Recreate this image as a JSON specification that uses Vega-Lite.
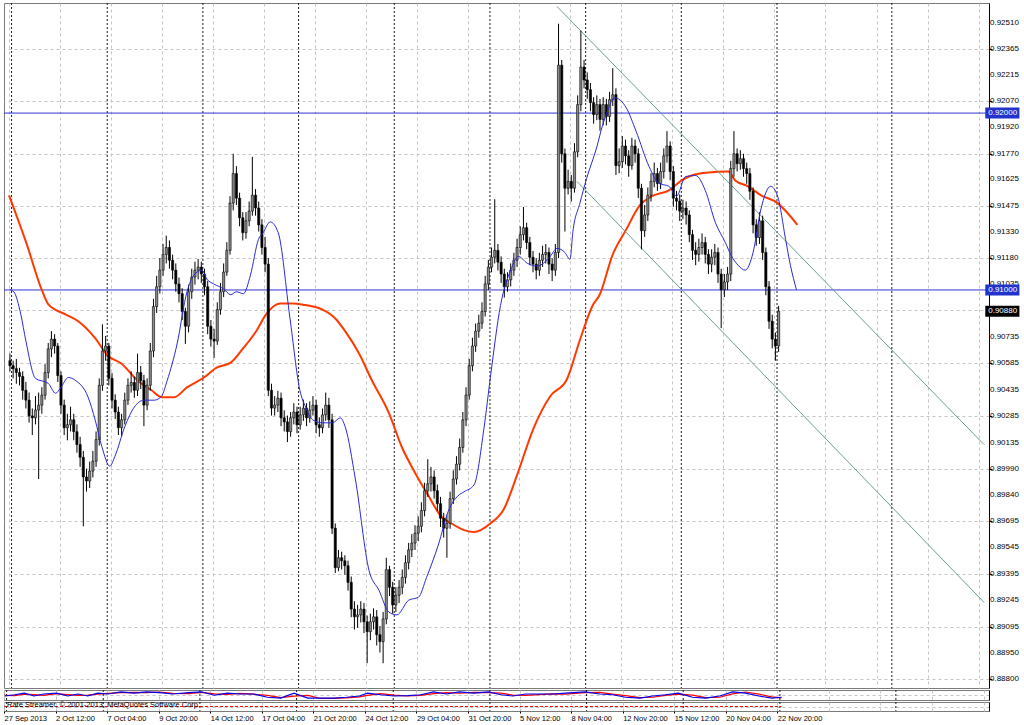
{
"$schema":"https://vega.github.io/schema/vega-lite/v6.json",
"background":"white",
"padding":{"left":3,"top":2,"right":0,"bottom":0},
"spacing":2,
"bounds":"flush",
"resolve":{"scale":{"x":"independent","y":"independent"}},
"config":{
 "view":{"stroke":"#7a7a7a","strokeWidth":1},
 "axis":{"labelFont":"Liberation Sans","labelFontSize":8,"labelColor":"#000","labelOverlap":false,"gridColor":"#c4c4c4","gridDash":[3,3],"gridWidth":1,"tickColor":"#000","domainColor":"#000"}
},
"datasets":{
"candles":[
{"i":0,"o":0.906,"h":0.9064,"l":0.9054,"c":0.90572},
{"i":1,"o":0.90572,"h":0.906,"l":0.905,"c":0.90555},
{"i":2,"o":0.90555,"h":0.9061,"l":0.9047,"c":0.90533},
{"i":3,"o":0.90533,"h":0.9056,"l":0.9046,"c":0.90511},
{"i":4,"o":0.90511,"h":0.9054,"l":0.9038,"c":0.90433},
{"i":5,"o":0.90433,"h":0.9048,"l":0.9033,"c":0.90377},
{"i":6,"o":0.90377,"h":0.9042,"l":0.9025,"c":0.90288},
{"i":7,"o":0.90288,"h":0.9033,"l":0.9018,"c":0.90277},
{"i":8,"o":0.90277,"h":0.904,"l":0.9024,"c":0.90321},
{"i":9,"o":0.90321,"h":0.9042,"l":0.89931,"c":0.90349},
{"i":10,"o":0.90349,"h":0.9045,"l":0.903,"c":0.90405},
{"i":11,"o":0.90405,"h":0.9058,"l":0.9038,"c":0.90533},
{"i":12,"o":0.90533,"h":0.907,"l":0.905,"c":0.90667},
{"i":13,"o":0.90667,"h":0.90767,"l":0.9062,"c":0.90722},
{"i":14,"o":0.90722,"h":0.9075,"l":0.9064,"c":0.90683},
{"i":15,"o":0.90683,"h":0.907,"l":0.9048,"c":0.90516},
{"i":16,"o":0.90516,"h":0.9054,"l":0.903,"c":0.90349},
{"i":17,"o":0.90349,"h":0.9038,"l":0.9018,"c":0.90221},
{"i":18,"o":0.90221,"h":0.903,"l":0.9015,"c":0.90238},
{"i":19,"o":0.90238,"h":0.9034,"l":0.902,"c":0.90266},
{"i":20,"o":0.90266,"h":0.903,"l":0.9015,"c":0.90199},
{"i":21,"o":0.90199,"h":0.9024,"l":0.9008,"c":0.90126},
{"i":22,"o":0.90126,"h":0.9017,"l":0.9,"c":0.90054},
{"i":23,"o":0.90054,"h":0.9009,"l":0.89664,"c":0.89943},
{"i":24,"o":0.89943,"h":0.8999,"l":0.8986,"c":0.8992},
{"i":25,"o":0.8992,"h":0.9003,"l":0.8988,"c":0.89976},
{"i":26,"o":0.89976,"h":0.9009,"l":0.8994,"c":0.90032},
{"i":27,"o":0.90032,"h":0.902,"l":0.9,"c":0.90154},
{"i":28,"o":0.90154,"h":0.905,"l":0.9012,"c":0.90461},
{"i":29,"o":0.90461,"h":0.90806,"l":0.9043,"c":0.90655},
{"i":30,"o":0.90655,"h":0.9074,"l":0.906,"c":0.90683},
{"i":31,"o":0.90683,"h":0.907,"l":0.9046,"c":0.905},
{"i":32,"o":0.905,"h":0.9053,"l":0.9033,"c":0.90377},
{"i":33,"o":0.90377,"h":0.9041,"l":0.9027,"c":0.9031},
{"i":34,"o":0.9031,"h":0.9034,"l":0.9018,"c":0.90221},
{"i":35,"o":0.90221,"h":0.903,"l":0.9017,"c":0.90266},
{"i":36,"o":0.90266,"h":0.9042,"l":0.9024,"c":0.90377},
{"i":37,"o":0.90377,"h":0.905,"l":0.9035,"c":0.90461},
{"i":38,"o":0.90461,"h":0.9054,"l":0.9042,"c":0.90477},
{"i":39,"o":0.90477,"h":0.9051,"l":0.9039,"c":0.90433},
{"i":40,"o":0.90433,"h":0.9064,"l":0.904,"c":0.90533},
{"i":41,"o":0.90533,"h":0.9057,"l":0.9044,"c":0.90488},
{"i":42,"o":0.90488,"h":0.9052,"l":0.9023,"c":0.90349},
{"i":43,"o":0.90349,"h":0.905,"l":0.9032,"c":0.90461},
{"i":44,"o":0.90461,"h":0.907,"l":0.9043,"c":0.90655},
{"i":45,"o":0.90655,"h":0.9095,"l":0.9062,"c":0.90906},
{"i":46,"o":0.90906,"h":0.9108,"l":0.9087,"c":0.91018},
{"i":47,"o":0.91018,"h":0.9118,"l":0.9098,"c":0.91112},
{"i":48,"o":0.91112,"h":0.9126,"l":0.9108,"c":0.91201},
{"i":49,"o":0.91201,"h":0.91307,"l":0.9115,"c":0.9124},
{"i":50,"o":0.9124,"h":0.9128,"l":0.9112,"c":0.91168},
{"i":51,"o":0.91168,"h":0.912,"l":0.9106,"c":0.91112},
{"i":52,"o":0.91112,"h":0.9115,"l":0.9099,"c":0.91034},
{"i":53,"o":0.91034,"h":0.9107,"l":0.9093,"c":0.90979},
{"i":54,"o":0.90979,"h":0.9101,"l":0.9083,"c":0.90878},
{"i":55,"o":0.90878,"h":0.909,"l":0.90695,"c":0.90795},
{"i":56,"o":0.90795,"h":0.9103,"l":0.9076,"c":0.9099},
{"i":57,"o":0.9099,"h":0.9112,"l":0.9095,"c":0.91073},
{"i":58,"o":0.91073,"h":0.9116,"l":0.9103,"c":0.91112},
{"i":59,"o":0.91112,"h":0.91175,"l":0.9106,"c":0.91129},
{"i":60,"o":0.91129,"h":0.9116,"l":0.9104,"c":0.9109},
{"i":61,"o":0.9109,"h":0.9112,"l":0.9097,"c":0.91018},
{"i":62,"o":0.91018,"h":0.9105,"l":0.9075,"c":0.90795},
{"i":63,"o":0.90795,"h":0.9083,"l":0.9068,"c":0.90722},
{"i":64,"o":0.90722,"h":0.9078,"l":0.90616,"c":0.90711},
{"i":65,"o":0.90711,"h":0.9093,"l":0.9069,"c":0.90889},
{"i":66,"o":0.90889,"h":0.9104,"l":0.9086,"c":0.9099},
{"i":67,"o":0.9099,"h":0.9115,"l":0.9096,"c":0.91101},
{"i":68,"o":0.91101,"h":0.9127,"l":0.9108,"c":0.91224},
{"i":69,"o":0.91224,"h":0.9153,"l":0.912,"c":0.91491},
{"i":70,"o":0.91491,"h":0.9177,"l":0.9145,"c":0.91658},
{"i":71,"o":0.91658,"h":0.917,"l":0.9148,"c":0.91519},
{"i":72,"o":0.91519,"h":0.9155,"l":0.9136,"c":0.91408},
{"i":73,"o":0.91408,"h":0.9144,"l":0.9128,"c":0.91324},
{"i":74,"o":0.91324,"h":0.9144,"l":0.9129,"c":0.91391},
{"i":75,"o":0.91391,"h":0.915,"l":0.9136,"c":0.91446},
{"i":76,"o":0.91446,"h":0.91753,"l":0.9142,"c":0.91536},
{"i":77,"o":0.91536,"h":0.9157,"l":0.9142,"c":0.91463},
{"i":78,"o":0.91463,"h":0.915,"l":0.9133,"c":0.91368},
{"i":79,"o":0.91368,"h":0.914,"l":0.912,"c":0.9124},
{"i":80,"o":0.9124,"h":0.913,"l":0.911,"c":0.91146},
{"i":81,"o":0.91146,"h":0.9118,"l":0.904,"c":0.90433},
{"i":82,"o":0.90433,"h":0.9047,"l":0.9029,"c":0.90332},
{"i":83,"o":0.90332,"h":0.904,"l":0.9029,"c":0.90349},
{"i":84,"o":0.90349,"h":0.9043,"l":0.9031,"c":0.90388},
{"i":85,"o":0.90388,"h":0.9042,"l":0.9023,"c":0.90277},
{"i":86,"o":0.90277,"h":0.9032,"l":0.902,"c":0.90254},
{"i":87,"o":0.90254,"h":0.9029,"l":0.9014,"c":0.90199},
{"i":88,"o":0.90199,"h":0.9031,"l":0.9017,"c":0.90277},
{"i":89,"o":0.90277,"h":0.9036,"l":0.9024,"c":0.9031},
{"i":90,"o":0.9031,"h":0.9034,"l":0.9019,"c":0.90238},
{"i":91,"o":0.90238,"h":0.9034,"l":0.9021,"c":0.90294},
{"i":92,"o":0.90294,"h":0.9038,"l":0.9026,"c":0.90332},
{"i":93,"o":0.90332,"h":0.9036,"l":0.9023,"c":0.90277},
{"i":94,"o":0.90277,"h":0.9037,"l":0.9025,"c":0.90321},
{"i":95,"o":0.90321,"h":0.904,"l":0.9029,"c":0.90349},
{"i":96,"o":0.90349,"h":0.9038,"l":0.9019,"c":0.90238},
{"i":97,"o":0.90238,"h":0.9028,"l":0.9017,"c":0.90221},
{"i":98,"o":0.90221,"h":0.9033,"l":0.9019,"c":0.90294},
{"i":99,"o":0.90294,"h":0.9042,"l":0.9026,"c":0.90349},
{"i":100,"o":0.90349,"h":0.9039,"l":0.9022,"c":0.90266},
{"i":101,"o":0.90266,"h":0.903,"l":0.8962,"c":0.89653},
{"i":102,"o":0.89653,"h":0.8968,"l":0.894,"c":0.8943},
{"i":103,"o":0.8943,"h":0.8953,"l":0.8941,"c":0.89486},
{"i":104,"o":0.89486,"h":0.8952,"l":0.8942,"c":0.89469},
{"i":105,"o":0.89469,"h":0.895,"l":0.8939,"c":0.89441},
{"i":106,"o":0.89441,"h":0.8947,"l":0.893,"c":0.89347},
{"i":107,"o":0.89347,"h":0.8938,"l":0.8915,"c":0.89196},
{"i":108,"o":0.89196,"h":0.8924,"l":0.8908,"c":0.89152},
{"i":109,"o":0.89152,"h":0.8922,"l":0.8909,"c":0.89163},
{"i":110,"o":0.89163,"h":0.8924,"l":0.8912,"c":0.89196},
{"i":111,"o":0.89196,"h":0.8923,"l":0.8906,"c":0.89124},
{"i":112,"o":0.89124,"h":0.8916,"l":0.8889,"c":0.89068},
{"i":113,"o":0.89068,"h":0.8917,"l":0.8902,"c":0.89124},
{"i":114,"o":0.89124,"h":0.892,"l":0.8908,"c":0.89152},
{"i":115,"o":0.89152,"h":0.8919,"l":0.8899,"c":0.89051},
{"i":116,"o":0.89051,"h":0.891,"l":0.8895,"c":0.89012},
{"i":117,"o":0.89012,"h":0.8918,"l":0.8889,"c":0.8914},
{"i":118,"o":0.8914,"h":0.89486,"l":0.8911,"c":0.89419},
{"i":119,"o":0.89419,"h":0.8944,"l":0.8927,"c":0.89319},
{"i":120,"o":0.89319,"h":0.8935,"l":0.8917,"c":0.89219},
{"i":121,"o":0.89219,"h":0.8932,"l":0.8918,"c":0.89274},
{"i":122,"o":0.89274,"h":0.8936,"l":0.8923,"c":0.89319},
{"i":123,"o":0.89319,"h":0.8942,"l":0.8928,"c":0.89375},
{"i":124,"o":0.89375,"h":0.895,"l":0.8934,"c":0.89458},
{"i":125,"o":0.89458,"h":0.8957,"l":0.8942,"c":0.89531},
{"i":126,"o":0.89531,"h":0.8962,"l":0.8949,"c":0.89569},
{"i":127,"o":0.89569,"h":0.8967,"l":0.8953,"c":0.89625},
{"i":128,"o":0.89625,"h":0.8972,"l":0.8958,"c":0.89664},
{"i":129,"o":0.89664,"h":0.898,"l":0.8963,"c":0.89753},
{"i":130,"o":0.89753,"h":0.8991,"l":0.8972,"c":0.89865},
{"i":131,"o":0.89865,"h":0.90043,"l":0.8983,"c":0.89904},
{"i":132,"o":0.89904,"h":0.9,"l":0.8986,"c":0.89943},
{"i":133,"o":0.89943,"h":0.8998,"l":0.8982,"c":0.89865},
{"i":134,"o":0.89865,"h":0.899,"l":0.8975,"c":0.89792},
{"i":135,"o":0.89792,"h":0.8983,"l":0.8966,"c":0.89709},
{"i":136,"o":0.89709,"h":0.8974,"l":0.896,"c":0.89653},
{"i":137,"o":0.89653,"h":0.8973,"l":0.89486,"c":0.89681},
{"i":138,"o":0.89681,"h":0.8986,"l":0.8965,"c":0.8982},
{"i":139,"o":0.8982,"h":0.8998,"l":0.8979,"c":0.89931},
{"i":140,"o":0.89931,"h":0.9006,"l":0.899,"c":0.90015},
{"i":141,"o":0.90015,"h":0.9016,"l":0.8998,"c":0.9011},
{"i":142,"o":0.9011,"h":0.9031,"l":0.9008,"c":0.90266},
{"i":143,"o":0.90266,"h":0.9045,"l":0.9023,"c":0.90406},
{"i":144,"o":0.90406,"h":0.9061,"l":0.9038,"c":0.90572},
{"i":145,"o":0.90572,"h":0.9073,"l":0.9054,"c":0.90683},
{"i":146,"o":0.90683,"h":0.9081,"l":0.9065,"c":0.90767},
{"i":147,"o":0.90767,"h":0.9086,"l":0.9073,"c":0.90812},
{"i":148,"o":0.90812,"h":0.9093,"l":0.9078,"c":0.90878},
{"i":149,"o":0.90878,"h":0.9108,"l":0.9085,"c":0.91034},
{"i":150,"o":0.91034,"h":0.9117,"l":0.91,"c":0.91129},
{"i":151,"o":0.91129,"h":0.9124,"l":0.911,"c":0.91185},
{"i":152,"o":0.91185,"h":0.91513,"l":0.9115,"c":0.91224},
{"i":153,"o":0.91224,"h":0.9126,"l":0.9111,"c":0.91157},
{"i":154,"o":0.91157,"h":0.9119,"l":0.9104,"c":0.9109},
{"i":155,"o":0.9109,"h":0.9112,"l":0.90957,"c":0.91018},
{"i":156,"o":0.91018,"h":0.911,"l":0.9099,"c":0.91057},
{"i":157,"o":0.91057,"h":0.9115,"l":0.9102,"c":0.91112},
{"i":158,"o":0.91112,"h":0.9121,"l":0.9108,"c":0.91168},
{"i":159,"o":0.91168,"h":0.9129,"l":0.9113,"c":0.9124},
{"i":160,"o":0.9124,"h":0.9136,"l":0.912,"c":0.91313},
{"i":161,"o":0.91313,"h":0.91469,"l":0.9128,"c":0.91352},
{"i":162,"o":0.91352,"h":0.9138,"l":0.9123,"c":0.91268},
{"i":163,"o":0.91268,"h":0.913,"l":0.9114,"c":0.91185},
{"i":164,"o":0.91185,"h":0.9122,"l":0.911,"c":0.91146},
{"i":165,"o":0.91146,"h":0.9118,"l":0.9106,"c":0.91112},
{"i":166,"o":0.91112,"h":0.9121,"l":0.9108,"c":0.91168},
{"i":167,"o":0.91168,"h":0.9125,"l":0.9113,"c":0.91201},
{"i":168,"o":0.91201,"h":0.9126,"l":0.9115,"c":0.91212},
{"i":169,"o":0.91212,"h":0.9124,"l":0.9109,"c":0.91146},
{"i":170,"o":0.91146,"h":0.9118,"l":0.9105,"c":0.91112},
{"i":171,"o":0.91112,"h":0.9126,"l":0.9108,"c":0.91212},
{"i":172,"o":0.91212,"h":0.92505,"l":0.9118,"c":0.92271},
{"i":173,"o":0.92271,"h":0.923,"l":0.9172,"c":0.9177},
{"i":174,"o":0.9177,"h":0.918,"l":0.9133,"c":0.91575},
{"i":175,"o":0.91575,"h":0.9168,"l":0.9154,"c":0.91614},
{"i":176,"o":0.91614,"h":0.9165,"l":0.915,"c":0.91575},
{"i":177,"o":0.91575,"h":0.9183,"l":0.9155,"c":0.91781},
{"i":178,"o":0.91781,"h":0.921,"l":0.9175,"c":0.92048},
{"i":179,"o":0.92048,"h":0.92466,"l":0.9201,"c":0.9226},
{"i":180,"o":0.9226,"h":0.923,"l":0.9214,"c":0.92187},
{"i":181,"o":0.92187,"h":0.9223,"l":0.9208,"c":0.92132},
{"i":182,"o":0.92132,"h":0.9217,"l":0.9201,"c":0.92059},
{"i":183,"o":0.92059,"h":0.9209,"l":0.9194,"c":0.91992},
{"i":184,"o":0.91992,"h":0.921,"l":0.9196,"c":0.92048},
{"i":185,"o":0.92048,"h":0.9208,"l":0.919,"c":0.91964},
{"i":186,"o":0.91964,"h":0.9209,"l":0.9193,"c":0.92048},
{"i":187,"o":0.92048,"h":0.9208,"l":0.9193,"c":0.91981},
{"i":188,"o":0.91981,"h":0.9212,"l":0.9195,"c":0.92076},
{"i":189,"o":0.92076,"h":0.92254,"l":0.9204,"c":0.92104},
{"i":190,"o":0.92104,"h":0.9214,"l":0.9165,"c":0.91703},
{"i":191,"o":0.91703,"h":0.918,"l":0.9166,"c":0.91725},
{"i":192,"o":0.91725,"h":0.9187,"l":0.9169,"c":0.91814},
{"i":193,"o":0.91814,"h":0.9185,"l":0.9171,"c":0.91758},
{"i":194,"o":0.91758,"h":0.9179,"l":0.9164,"c":0.91703},
{"i":195,"o":0.91703,"h":0.9186,"l":0.9168,"c":0.91814},
{"i":196,"o":0.91814,"h":0.9185,"l":0.9172,"c":0.9177},
{"i":197,"o":0.9177,"h":0.918,"l":0.9152,"c":0.91575},
{"i":198,"o":0.91575,"h":0.916,"l":0.91229,"c":0.91335},
{"i":199,"o":0.91335,"h":0.9148,"l":0.913,"c":0.91424},
{"i":200,"o":0.91424,"h":0.9158,"l":0.9139,"c":0.91536},
{"i":201,"o":0.91536,"h":0.9166,"l":0.915,"c":0.91614},
{"i":202,"o":0.91614,"h":0.9172,"l":0.9158,"c":0.91658},
{"i":203,"o":0.91658,"h":0.9169,"l":0.9156,"c":0.91602},
{"i":204,"o":0.91602,"h":0.9172,"l":0.9157,"c":0.91669},
{"i":205,"o":0.91669,"h":0.918,"l":0.9163,"c":0.91758},
{"i":206,"o":0.91758,"h":0.91898,"l":0.9172,"c":0.91814},
{"i":207,"o":0.91814,"h":0.9184,"l":0.9162,"c":0.91669},
{"i":208,"o":0.91669,"h":0.917,"l":0.9147,"c":0.91519},
{"i":209,"o":0.91519,"h":0.9156,"l":0.9145,"c":0.91502},
{"i":210,"o":0.91502,"h":0.9154,"l":0.9139,"c":0.91446},
{"i":211,"o":0.91446,"h":0.9151,"l":0.914,"c":0.91463},
{"i":212,"o":0.91463,"h":0.915,"l":0.9137,"c":0.91424},
{"i":213,"o":0.91424,"h":0.9145,"l":0.9127,"c":0.91313},
{"i":214,"o":0.91313,"h":0.9134,"l":0.9117,"c":0.91224},
{"i":215,"o":0.91224,"h":0.9127,"l":0.9114,"c":0.91201},
{"i":216,"o":0.91201,"h":0.9129,"l":0.9116,"c":0.9124},
{"i":217,"o":0.9124,"h":0.9132,"l":0.912,"c":0.91268},
{"i":218,"o":0.91268,"h":0.913,"l":0.9115,"c":0.91201},
{"i":219,"o":0.91201,"h":0.9123,"l":0.9109,"c":0.91146},
{"i":220,"o":0.91146,"h":0.9123,"l":0.911,"c":0.91185},
{"i":221,"o":0.91185,"h":0.9126,"l":0.9114,"c":0.91212},
{"i":222,"o":0.91212,"h":0.9124,"l":0.9104,"c":0.9109},
{"i":223,"o":0.9109,"h":0.9112,"l":0.90784,"c":0.91001},
{"i":224,"o":0.91001,"h":0.9109,"l":0.9096,"c":0.91045},
{"i":225,"o":0.91045,"h":0.9113,"l":0.91,"c":0.9109},
{"i":226,"o":0.9109,"h":0.9173,"l":0.9105,"c":0.91686},
{"i":227,"o":0.91686,"h":0.91898,"l":0.9164,"c":0.9177},
{"i":228,"o":0.9177,"h":0.918,"l":0.9167,"c":0.91714},
{"i":229,"o":0.91714,"h":0.9179,"l":0.9168,"c":0.91742},
{"i":230,"o":0.91742,"h":0.9177,"l":0.9164,"c":0.91686},
{"i":231,"o":0.91686,"h":0.9172,"l":0.916,"c":0.91658},
{"i":232,"o":0.91658,"h":0.9169,"l":0.9151,"c":0.91558},
{"i":233,"o":0.91558,"h":0.9158,"l":0.9132,"c":0.91368},
{"i":234,"o":0.91368,"h":0.914,"l":0.9125,"c":0.91296},
{"i":235,"o":0.91296,"h":0.9144,"l":0.9126,"c":0.91391},
{"i":236,"o":0.91391,"h":0.9142,"l":0.9117,"c":0.91212},
{"i":237,"o":0.91212,"h":0.9124,"l":0.9097,"c":0.91018},
{"i":238,"o":0.91018,"h":0.9105,"l":0.9078,"c":0.90823},
{"i":239,"o":0.90823,"h":0.9086,"l":0.9067,"c":0.90722},
{"i":240,"o":0.90722,"h":0.9076,"l":0.906,"c":0.90683},
{"i":241,"o":0.90683,"h":0.9091,"l":0.9065,"c":0.9088}
],
"blue":[
{"i":0,"p":0.91001},{"i":1.2,"p":0.9099},{"i":3.4,"p":0.90862},{"i":5,"p":0.90711},{"i":8,"p":0.905},{"i":12,"p":0.90472},{"i":14.3,"p":0.90416},{"i":15.8,"p":0.90444},{"i":18.3,"p":0.90505},{"i":20.5,"p":0.90489},{"i":24.5,"p":0.90394},{"i":26.7,"p":0.90266},{"i":28.8,"p":0.90115},{"i":31.3,"p":0.90004},{"i":32.9,"p":0.90059},{"i":36,"p":0.90227},{"i":39,"p":0.90338},{"i":42,"p":0.90377},{"i":45.3,"p":0.90377},{"i":47.5,"p":0.90399},{"i":49.3,"p":0.90488},{"i":52.4,"p":0.90695},{"i":55.5,"p":0.9099},{"i":57.7,"p":0.91084},{"i":60.2,"p":0.91112},{"i":61.7,"p":0.91062},{"i":63.9,"p":0.91034},{"i":67,"p":0.91006},{"i":69.2,"p":0.90973},{"i":71,"p":0.9099},{"i":73.2,"p":0.90979},{"i":75.4,"p":0.91084},{"i":77.9,"p":0.91285},{"i":79.4,"p":0.91324},{"i":81.6,"p":0.91385},{"i":84.1,"p":0.91324},{"i":87.8,"p":0.90839},{"i":90.9,"p":0.90433},{"i":92.7,"p":0.90338},{"i":94.9,"p":0.90266},{"i":98,"p":0.90249},{"i":101.1,"p":0.90249},{"i":103.6,"p":0.90277},{"i":105.1,"p":0.90227},{"i":108.3,"p":0.89931},{"i":112.6,"p":0.89413},{"i":115.7,"p":0.89302},{"i":118.8,"p":0.89179},{"i":121.3,"p":0.89163},{"i":125,"p":0.89246},{"i":128.1,"p":0.89263},{"i":130.6,"p":0.89374},{"i":134.3,"p":0.89558},{"i":137.4,"p":0.89748},{"i":140.5,"p":0.89837},{"i":142.4,"p":0.89859},{"i":145.5,"p":0.89898},{"i":148.6,"p":0.90215},{"i":150.7,"p":0.90516},{"i":153.8,"p":0.90912},{"i":157,"p":0.91112},{"i":159.4,"p":0.9119},{"i":162.2,"p":0.91151},{"i":165.3,"p":0.91135},{"i":169.4,"p":0.9119},{"i":171.5,"p":0.91235},{"i":174,"p":0.91212},{"i":175.6,"p":0.91173},{"i":176.5,"p":0.91329},{"i":178.7,"p":0.91491},{"i":180.8,"p":0.9163},{"i":184,"p":0.91808},{"i":185.8,"p":0.91931},{"i":187,"p":0.91992},{"i":189.5,"p":0.92087},{"i":193.2,"p":0.92031},{"i":196.3,"p":0.91898},{"i":200.4,"p":0.91697},{"i":203.5,"p":0.91602},{"i":206.6,"p":0.91586},{"i":209,"p":0.9153},{"i":211.8,"p":0.91641},{"i":215,"p":0.91647},{"i":218,"p":0.91563},{"i":221.2,"p":0.9138},{"i":224.3,"p":0.91268},{"i":226.1,"p":0.91196},{"i":228.3,"p":0.9114},{"i":230.5,"p":0.91112},{"i":233,"p":0.91212},{"i":235.4,"p":0.91452},{"i":238.5,"p":0.91586},{"i":240.7,"p":0.9153},{"i":243.2,"p":0.91285},{"i":244.7,"p":0.9114},{"i":246.6,"p":0.91001}
],
"red":[
{"i":-0.3,"p":0.91535},{"i":5,"p":0.91273},{"i":10.2,"p":0.9099},{"i":12.1,"p":0.90917},{"i":17.4,"p":0.90862},{"i":21.4,"p":0.90823},{"i":26.7,"p":0.90728},{"i":30.7,"p":0.90628},{"i":35,"p":0.90583},{"i":40,"p":0.90488},{"i":44.4,"p":0.90433},{"i":47.5,"p":0.90394},{"i":51.5,"p":0.90394},{"i":55.5,"p":0.90449},{"i":60.8,"p":0.90505},{"i":64.8,"p":0.90561},{"i":69.2,"p":0.90589},{"i":73.2,"p":0.90672},{"i":77.2,"p":0.90767},{"i":80.3,"p":0.90862},{"i":84.7,"p":0.90923},{"i":88.7,"p":0.90923},{"i":91.8,"p":0.90917},{"i":98,"p":0.90889},{"i":102,"p":0.90839},{"i":105.1,"p":0.90767},{"i":109.5,"p":0.90639},{"i":113.5,"p":0.90488},{"i":118.8,"p":0.90305},{"i":122.8,"p":0.90115},{"i":126.9,"p":0.8997},{"i":131.2,"p":0.89837},{"i":135.2,"p":0.8972},{"i":138.3,"p":0.89681},{"i":142.4,"p":0.89642},{"i":145.5,"p":0.89631},{"i":150.7,"p":0.89681},{"i":154.8,"p":0.89759},{"i":159.1,"p":0.89959},{"i":164.1,"p":0.90215},{"i":169.4,"p":0.90399},{"i":174.6,"p":0.90494},{"i":178.7,"p":0.90717},{"i":182.7,"p":0.90912},{"i":184.9,"p":0.90973},{"i":188.9,"p":0.91196},{"i":193.2,"p":0.91341},{"i":197.3,"p":0.91474},{"i":201.3,"p":0.9153},{"i":206.6,"p":0.91563},{"i":210.6,"p":0.91619},{"i":213.7,"p":0.91647},{"i":219,"p":0.91664},{"i":225.2,"p":0.91669},{"i":227.4,"p":0.91619},{"i":231.4,"p":0.91586},{"i":235.4,"p":0.91536},{"i":240.7,"p":0.91491},{"i":243.8,"p":0.91435},{"i":246.9,"p":0.91368}
],
"chan":[
{"ln":"upper","i":171.5,"p":0.92603},{"ln":"upper","i":305.4,"p":0.90126},
{"ln":"lower","i":177.8,"p":0.91613},{"ln":"lower","i":305.4,"p":0.89234}
],
"sep":[{"i":0.5},{"i":30.5},{"i":60.5},{"i":90.5},{"i":120.5},{"i":150.5},{"i":180.5},{"i":210.5},{"i":240.5},{"i":276.5}],
"levels":[
{"p":0.92,"tag":"0.92000","k":"line"},
{"p":0.91,"tag":"0.91000","k":"line"},
{"p":0.9088,"tag":"0.90880","k":"bid"}
],
"ylab":[{"v":0.9251},{"v":0.92365},{"v":0.92215},{"v":0.9207},{"v":0.9192},{"v":0.9177},{"v":0.91625},{"v":0.91475},{"v":0.9133},{"v":0.9118},{"v":0.91035},{"v":0.90735},{"v":0.90585},{"v":0.90435},{"v":0.90285},{"v":0.90135},{"v":0.8999},{"v":0.8984},{"v":0.89695},{"v":0.89545},{"v":0.89395},{"v":0.89245},{"v":0.89095},{"v":0.8895},{"v":0.888}],
"osc":[
{"i":0,"b":46,"r":50},{"i":3,"b":54,"r":48},{"i":6,"b":65,"r":58},{"i":9,"b":46,"r":55},{"i":12,"b":59,"r":50},{"i":16,"b":65,"r":62},{"i":19.5,"b":46,"r":55},{"i":22.6,"b":59,"r":50},{"i":25.7,"b":46,"r":52},{"i":28.8,"b":65,"r":58},{"i":32,"b":59,"r":63},{"i":36,"b":73,"r":68},{"i":40,"b":65,"r":70},{"i":44,"b":73,"r":68},{"i":48,"b":68,"r":72},{"i":52,"b":59,"r":63},{"i":57,"b":68,"r":62},{"i":61,"b":73,"r":70},{"i":65,"b":51,"r":60},{"i":69,"b":65,"r":56},{"i":73,"b":59,"r":63},{"i":77,"b":59,"r":58},{"i":81.5,"b":38,"r":50},{"i":85.6,"b":32,"r":36},{"i":89.7,"b":65,"r":45},{"i":94,"b":32,"r":50},{"i":98,"b":32,"r":30},{"i":102,"b":32,"r":30},{"i":106,"b":38,"r":34},{"i":110,"b":46,"r":40},{"i":112.5,"b":65,"r":50},{"i":116.6,"b":54,"r":62},{"i":120.7,"b":46,"r":52},{"i":125,"b":49,"r":46},{"i":129,"b":54,"r":50},{"i":133,"b":73,"r":62},{"i":137,"b":59,"r":68},{"i":141,"b":73,"r":64},{"i":145.5,"b":65,"r":70},{"i":150,"b":73,"r":68},{"i":154,"b":54,"r":65},{"i":157.6,"b":46,"r":52},{"i":161.6,"b":59,"r":50},{"i":170,"b":59,"r":60},{"i":174,"b":65,"r":58},{"i":180,"b":73,"r":68},{"i":184.6,"b":59,"r":70},{"i":188.6,"b":54,"r":58},{"i":192.6,"b":38,"r":48},{"i":197,"b":32,"r":36},{"i":201,"b":46,"r":38},{"i":205,"b":54,"r":50},{"i":209,"b":65,"r":58},{"i":213.4,"b":38,"r":52},{"i":217.4,"b":32,"r":36},{"i":221.8,"b":46,"r":38},{"i":225.8,"b":73,"r":60},{"i":229.8,"b":65,"r":72},{"i":234,"b":46,"r":58},{"i":238,"b":32,"r":40},{"i":241,"b":38,"r":34}
],
"sig":[{"i":0,"v":0.5},{"i":241,"v":0.5}],
"note":[{"t":"Rate Streamer, © 2001-2013, MetaQuotes Software Corp."}]
},
"vconcat":[
{
 "width":985,"height":685,
 "layer":[
  {"data":{"name":"sep"},"mark":{"type":"rule","color":"#1a1a1a","strokeDash":[2,2],"strokeWidth":1},
   "encoding":{"x":{"field":"i","type":"quantitative","title":null,"scale":{"domain":[-0.3,305.4],"nice":false,"zero":false},
     "axis":{"values":[-0.3,7.7,15.7,23.7,31.7,39.7,47.7,55.7,63.7,71.7,79.7,87.7,95.7,103.7,111.7,119.7,127.7,135.7,143.7,151.7,159.7,167.7,175.7,183.7,191.7,199.7,207.7,215.7,223.7,231.7,239.7,247.7,255.7,263.7,271.7,279.7,287.7,295.7,303.7],"grid":true,"labels":false,"ticks":false,"domain":false,"title":null}}}},
  {"data":{"name":"levels"},"transform":[{"filter":"datum.k == 'line'"}],"mark":{"type":"rule","color":"#3036d4","strokeWidth":1},
   "encoding":{"y":{"field":"p","type":"quantitative","title":null,"scale":{"domain":[0.88778,0.92594],"nice":false,"zero":false},
     "axis":{"orient":"right","values":[0.9251,0.92365,0.92215,0.9207,0.9192,0.9177,0.91625,0.91475,0.9133,0.9118,0.91035,0.90885,0.90735,0.90585,0.90435,0.90285,0.90135,0.8999,0.8984,0.89695,0.89545,0.89395,0.89245,0.89095,0.8895,0.888],"labels":false,"grid":true,"tickSize":3,"title":null}}}},
  {"data":{"name":"ylab"},"mark":{"type":"text","align":"left","baseline":"middle","font":"Liberation Sans","fontSize":8,"color":"#000","dx":6,"clip":false},
   "encoding":{"x":{"datum":305.4,"type":"quantitative","title":null,"scale":{"domain":[-0.3,305.4],"nice":false,"zero":false}},
     "y":{"field":"v","type":"quantitative","title":null,"scale":{"domain":[0.88778,0.92594],"nice":false,"zero":false}},
     "text":{"field":"v","type":"quantitative","format":".5f"}}},
  {"data":{"name":"red"},"mark":{"type":"line","color":"#ff3a00","strokeWidth":2,"clip":true,"interpolate":"monotone"},
   "encoding":{"x":{"field":"i","type":"quantitative","title":null,"scale":{"domain":[-0.3,305.4],"nice":false,"zero":false}},
     "y":{"field":"p","type":"quantitative","title":null,"scale":{"domain":[0.88778,0.92594],"nice":false,"zero":false}}}},
  {"data":{"name":"chan"},"mark":{"type":"line","color":"#6a9e8e","strokeWidth":1,"clip":true},
   "encoding":{"x":{"field":"i","type":"quantitative","title":null,"scale":{"domain":[-0.3,305.4],"nice":false,"zero":false}},
     "y":{"field":"p","type":"quantitative","title":null,"scale":{"domain":[0.88778,0.92594],"nice":false,"zero":false}},
     "detail":{"field":"ln","type":"nominal"}}},
  {"data":{"name":"candles"},"mark":{"type":"rule","color":"#000","strokeWidth":1,"clip":true},
   "encoding":{"x":{"field":"i","type":"quantitative","title":null,"scale":{"domain":[-0.3,305.4],"nice":false,"zero":false}},
     "y":{"field":"l","type":"quantitative","title":null,"scale":{"domain":[0.88778,0.92594],"nice":false,"zero":false}},
     "y2":{"field":"h"}}},
  {"data":{"name":"candles"},"mark":{"type":"bar","width":2.2,"stroke":"#000","strokeWidth":0.6,"clip":true},
   "encoding":{"x":{"field":"i","type":"quantitative","title":null,"scale":{"domain":[-0.3,305.4],"nice":false,"zero":false}},
     "y":{"field":"o","type":"quantitative","title":null,"scale":{"domain":[0.88778,0.92594],"nice":false,"zero":false}},
     "y2":{"field":"c"},
     "fill":{"condition":{"test":"datum.c >= datum.o","value":"#8c8c8c"},"value":"#000000"}}},
  {"data":{"name":"blue"},"mark":{"type":"line","color":"#2a2ad6","strokeWidth":1,"clip":true,"interpolate":"monotone"},
   "encoding":{"x":{"field":"i","type":"quantitative","title":null,"scale":{"domain":[-0.3,305.4],"nice":false,"zero":false}},
     "y":{"field":"p","type":"quantitative","title":null,"scale":{"domain":[0.88778,0.92594],"nice":false,"zero":false}}}},
  {"data":{"name":"levels"},"mark":{"type":"bar","orient":"horizontal","height":11,"clip":false},
   "encoding":{"x":{"datum":305.8,"type":"quantitative","title":null,"scale":{"domain":[-0.3,305.4],"nice":false,"zero":false}},
     "x2":{"datum":316.5},
     "y":{"field":"p","type":"quantitative","title":null,"scale":{"domain":[0.88778,0.92594],"nice":false,"zero":false}},
     "fill":{"condition":{"test":"datum.k == 'bid'","value":"#000000"},"value":"#2233cc"}}},
  {"data":{"name":"levels"},"mark":{"type":"text","align":"left","baseline":"middle","color":"white","font":"Liberation Sans","fontSize":8,"dx":2,"clip":false},
   "encoding":{"x":{"datum":306.1,"type":"quantitative","title":null,"scale":{"domain":[-0.3,305.4],"nice":false,"zero":false}},
     "y":{"field":"p","type":"quantitative","title":null,"scale":{"domain":[0.88778,0.92594],"nice":false,"zero":false}},
     "text":{"field":"tag"}}}
 ]
},
{
 "width":985,"height":10,
 "layer":[
  {"data":{"name":"sep"},"mark":{"type":"rule","color":"#1a1a1a","strokeDash":[2,2],"strokeWidth":1},
   "encoding":{"x":{"field":"i","type":"quantitative","title":null,"scale":{"domain":[-0.3,305.4],"nice":false,"zero":false},
     "axis":{"values":[-0.3,7.7,15.7,23.7,31.7,39.7,47.7,55.7,63.7,71.7,79.7,87.7,95.7,103.7,111.7,119.7,127.7,135.7,143.7,151.7,159.7,167.7,175.7,183.7,191.7,199.7,207.7,215.7,223.7,231.7,239.7,247.7,255.7,263.7,271.7,279.7,287.7,295.7,303.7],"grid":true,"labels":false,"ticks":false,"domain":false,"title":null}}}},
  {"data":{"name":"osc"},"mark":{"type":"line","color":"#ff0000","strokeWidth":1.2,"clip":true},
   "encoding":{"x":{"field":"i","type":"quantitative","title":null,"scale":{"domain":[-0.3,305.4],"nice":false,"zero":false}},
     "y":{"field":"r","type":"quantitative","title":null,"scale":{"domain":[20,85],"nice":false,"zero":false},
       "axis":{"orient":"right","values":[52],"grid":true,"labels":false,"ticks":false,"title":null}}}},
  {"data":{"name":"osc"},"mark":{"type":"line","color":"#0000ee","strokeWidth":1.2,"clip":true},
   "encoding":{"x":{"field":"i","type":"quantitative","title":null,"scale":{"domain":[-0.3,305.4],"nice":false,"zero":false}},
     "y":{"field":"b","type":"quantitative","title":null,"scale":{"domain":[20,85],"nice":false,"zero":false}}}}
 ]
},
{
 "width":985,"height":9,
 "layer":[
  {"data":{"name":"sep"},"mark":{"type":"rule","color":"#1a1a1a","strokeDash":[2,2],"strokeWidth":1},
   "encoding":{"x":{"field":"i","type":"quantitative","title":null,"scale":{"domain":[-0.3,305.4],"nice":false,"zero":false},
     "axis":{"values":[-0.3,7.7,15.7,23.7,31.7,39.7,47.7,55.7,63.7,71.7,79.7,87.7,95.7,103.7,111.7,119.7,127.7,135.7,143.7,151.7,159.7,167.7,175.7,183.7,191.7,199.7,207.7,215.7,223.7,231.7,239.7,247.7,255.7,263.7,271.7,279.7,287.7,295.7,303.7],"grid":true,"domain":false,"title":null,"tickSize":2,"labelPadding":1,"labelAlign":"left","labelBaseline":"top","labelOverlap":false,"labelFlush":false,"labelBound":false,"labelFontSize":7.5,
       "tickOpacity":{"condition":{"test":"round((datum.value+0.3)/8)%2==0 && round((datum.value+0.3)/16)<=15","value":1},"value":0},
       "labelExpr":"(round((datum.value+0.3)/8)%2==0 && round((datum.value+0.3)/16)<=15) ? ['27 Sep 2013','2 Oct 12:00','7 Oct 04:00','9 Oct 20:00','14 Oct 12:00','17 Oct 04:00','21 Oct 20:00','24 Oct 12:00','29 Oct 04:00','31 Oct 20:00','5 Nov 12:00','8 Nov 04:00','12 Nov 20:00','15 Nov 12:00','20 Nov 04:00','22 Nov 20:00'][round((datum.value+0.3)/16)] : ''"}}}},
  {"data":{"name":"sig"},"mark":{"type":"line","color":"#ff0000","strokeWidth":1,"strokeDash":[3,2],"clip":true},
   "encoding":{"x":{"field":"i","type":"quantitative","title":null,"scale":{"domain":[-0.3,305.4],"nice":false,"zero":false}},
     "y":{"field":"v","type":"quantitative","title":null,"scale":{"domain":[0,1],"nice":false,"zero":false},
       "axis":{"orient":"right","values":[0.5],"grid":true,"labels":false,"ticks":false,"title":null}}}},
  {"data":{"name":"note"},"mark":{"type":"text","align":"left","baseline":"middle","fontSize":7.5,"font":"Liberation Sans","color":"#000","dx":3},
   "encoding":{"x":{"datum":-0.3,"type":"quantitative","title":null,"scale":{"domain":[-0.3,305.4],"nice":false,"zero":false}},
     "y":{"datum":0.7,"type":"quantitative","title":null,"scale":{"domain":[0,1],"nice":false,"zero":false}},
     "text":{"field":"t"}}}
 ]
}
]
}
